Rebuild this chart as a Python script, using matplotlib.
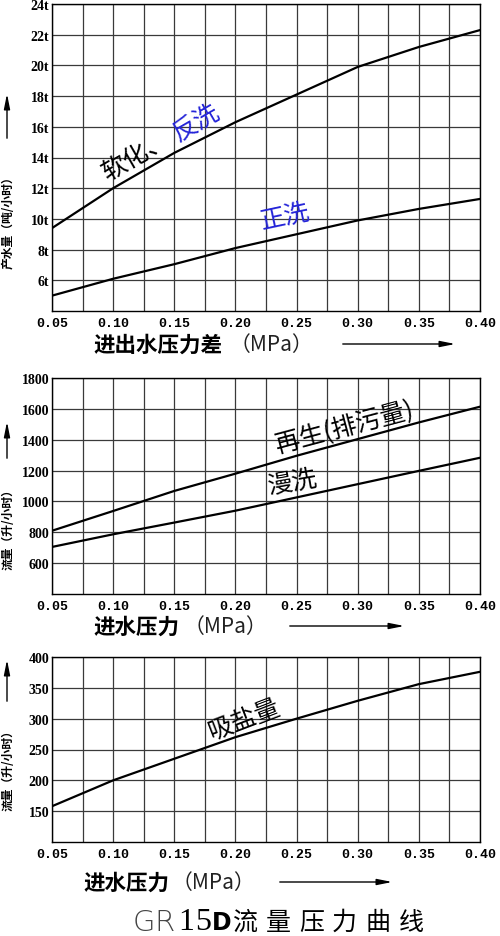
import numpy as np
import matplotlib.pyplot as plt

plt.rcParams['font.family'] = ['Noto Sans CJK SC', 'DejaVu Sans']

# -----------------------------
# data
# -----------------------------
pressure = [0.05, 0.10, 0.15, 0.20, 0.25, 0.30, 0.35, 0.40]

soften = [9.4, 12.0, 14.3, 16.3, 18.1, 19.9, 21.2, 22.3]        # 软化、反洗 (t/h)
rinse = [5.0, 6.1, 7.05, 8.1, 9.0, 9.9, 10.65, 11.3]             # 正洗 (t/h)

regen = [810, 938, 1068, 1180, 1296, 1404, 1512, 1614]           # 再生(排污量) (L/h)
slow_rinse = [705, 787, 863, 940, 1026, 1112, 1198, 1283]        # 漫洗 (L/h)

brine = [158, 200, 235, 270, 300, 329, 356, 376]                 # 吸盐量 (L/h)

x_ticks = [0.05, 0.10, 0.15, 0.20, 0.25, 0.30, 0.35, 0.40]
x_labels = ["0.05", "0.10", "0.15", "0.20", "0.25", "0.30", "0.35", "0.40"]

top_yticks = [6, 8, 10, 12, 14, 16, 18, 20, 22, 24]
top_ylabels = [f"{v}t" for v in top_yticks]
mid_yticks = [600, 800, 1000, 1200, 1400, 1600, 1800]
bot_yticks = [150, 200, 250, 300, 350, 400]

W, H = 500, 937
fig = plt.figure(figsize=(W / 100, H / 100), dpi=100)


def px(x, y):
    return x / W, 1 - y / H


def make_axes(top, bottom, ylim, yticks, ylabels):
    ax = fig.add_axes([52 / W, 1 - bottom / H, 428 / W, (bottom - top) / H])
    ax.set_xlim(0.05, 0.40)
    ax.set_ylim(*ylim)
    ax.set_xticks(x_ticks)
    ax.set_xticks(np.arange(0.075, 0.39, 0.05), minor=True)
    ax.set_xticklabels(x_labels, family='Liberation Mono', weight='bold', fontsize=9.5)
    ax.set_yticks(yticks)
    ax.set_yticklabels(ylabels, family='Liberation Serif', weight='bold', fontsize=10)
    ax.tick_params(which='both', length=0)
    ax.tick_params(axis='x', pad=4)
    ax.tick_params(axis='y', pad=2)
    ax.grid(which='both', color='#3a3a3a', lw=0.9)
    ax.set_axisbelow(True)
    for s in ax.spines.values():
        s.set_linewidth(1.0)
    return ax


def xlabel(text, x0, x_paren, y, arrow_x0, arrow_x1):
    fig.text(*px(x0, y), text, fontsize=15.5, weight='bold', ha='left', va='center')
    fig.text(*px(x_paren, y), "（MPa）", fontsize=15, weight='light', ha='left',
             va='center', color='#222222')
    plt.annotate('', xy=px(arrow_x1, y), xytext=px(arrow_x0, y),
                 xycoords='figure fraction', textcoords='figure fraction',
                 arrowprops=dict(arrowstyle='-|>,head_length=0.9,head_width=0.18',
                                 lw=1.0, color='black'))


def ylabel(text, y_center, arrow_y0, arrow_y1):
    fig.text(*px(8, y_center), text, fontsize=8.5, weight='bold', rotation=90,
             ha='center', va='center')
    plt.annotate('', xy=px(7, arrow_y1), xytext=px(7, arrow_y0),
                 xycoords='figure fraction', textcoords='figure fraction',
                 arrowprops=dict(arrowstyle='-|>,head_length=0.9,head_width=0.18',
                                 lw=1.0, color='black'))


def curve_label(text, x, y, rot, color='black'):
    fig.text(*px(x, y), text, fontsize=18, rotation=rot, rotation_mode='anchor',
             ha='center', va='center', color=color)


# -----------------------------
# top: 产水量
# -----------------------------
ax1 = make_axes(5, 312, (4, 24), top_yticks, top_ylabels)
ax1.plot(pressure, soften, color='black', lw=1.6)
ax1.plot(pressure, rinse, color='black', lw=1.6)

curve_label("软化、", 136, 156, 30)
curve_label("反洗", 197, 123, 30, '#2424d8')
curve_label("正洗", 285, 218, 12, '#2424d8')

xlabel("进出水压力差", 93, 230, 345, 340, 458)
ylabel("产水量（吨/小时）", 220, 142, 92)

# -----------------------------
# middle: 再生 / 漫洗
# -----------------------------
ax2 = make_axes(379, 595, (400, 1800), mid_yticks, [str(v) for v in mid_yticks])
ax2.plot(pressure, regen, color='black', lw=1.6)
ax2.plot(pressure, slow_rinse, color='black', lw=1.6)

curve_label("再生(排污量)", 344, 428, 15)
curve_label("漫洗", 293, 483, 10)

xlabel("进水压力", 93, 184, 627, 287, 407)
ylabel("流量（升/小时）", 527, 462, 420)

# -----------------------------
# bottom: 吸盐量
# -----------------------------
ax3 = make_axes(658, 843, (100, 400), bot_yticks, [str(v) for v in bot_yticks])
ax3.plot(pressure, brine, color='black', lw=1.6)

curve_label("吸盐量", 244, 720, 21)

xlabel("进水压力", 83, 172, 883, 277, 395)
ylabel("流量（升/小时）", 768, 705, 658)

# -----------------------------
# title
# -----------------------------
ty = 923
fig.text(*px(144, ty), "G", fontsize=21, family='DejaVu Sans', weight='light',
         ha='center', va='center', color='#444444')
fig.text(*px(165, ty), "R", fontsize=21, family='DejaVu Sans', weight='light',
         ha='center', va='center', color='#444444')
fig.text(*px(186, ty), "1", fontsize=23, family='Liberation Serif',
         ha='center', va='center')
fig.text(*px(203, ty), "5", fontsize=23, family='Liberation Serif',
         ha='center', va='center')
fig.text(*px(222, ty), "D", fontsize=17, family='DejaVu Sans', weight='bold',
         ha='center', va='center')
for i, ch in enumerate("流量压力曲线"):
    fig.text(*px(245 + 33.2 * i, ty), ch, fontsize=18, ha='center', va='center')

fig.savefig("out.png", dpi=100)
